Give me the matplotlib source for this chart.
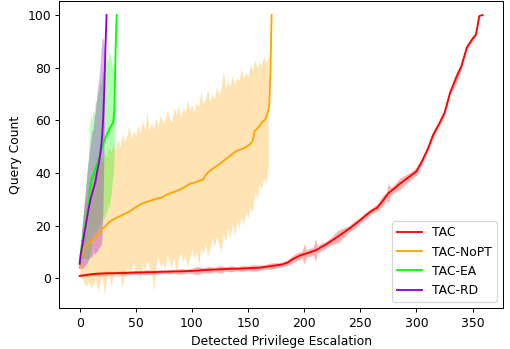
import numpy as np
import matplotlib
matplotlib.use("Agg")
import matplotlib.pyplot as plt

nan = np.nan

# TAC
tac_x = [0, 5, 10, 15, 20, 25, 30, 35, 40, 45, 50, 55, 60, 65, 70, 75, 80, 85, 90, 95,
         100, 105, 110, 115, 120, 125, 130, 135, 140, 145, 150, 155, 160, 165, 170, 175,
         180, 185, 190, 195, 198, 200, 202, 205, 208, 210, 212, 215, 220, 225, 230, 235,
         240, 245, 250, 255, 260, 265, 270, 273, 275, 277, 280, 285, 290, 295, 300, 305,
         310, 315, 320, 325, 330, 335, 340, 345, 350, 353, 356, 359]
tac_mean = [0.9, 1.2, 1.5, 1.7, 1.8, 1.9, 1.9, 2.0, 2.0, 2.1, 2.2, 2.2, 2.3, 2.3, 2.4, 2.5,
            2.5, 2.6, 2.6, 2.7, 2.8, 2.9, 3.1, 3.2, 3.3, 3.4, 3.5, 3.6, 3.6, 3.7, 3.8, 3.9,
            4.0, 4.3, 4.6, 4.9, 5.2, 5.9, 7.3, 8.4, 8.9, 9.2, 9.4, 9.8, 10.3, 10.6, 11.0,
            11.8, 13.0, 14.4, 15.8, 17.3, 18.8, 20.4, 22.1, 23.9, 25.6, 26.8, 29.4, 31.2,
            32.3, 33.0, 34.0, 35.8, 37.4, 39.0, 40.6, 44.5, 49.0, 54.6, 58.5, 62.8, 70.5,
            75.8, 80.5, 87.8, 91.0, 92.6, 99.6, 100.0]
tac_std = [0.3, 0.6, 0.5, 0.7, 0.6, 0.8, 0.6, 0.7, 0.9, 0.6, 0.8, 0.7, 1.0, 0.7, 0.8, 0.6,
           0.9, 0.7, 1.1, 0.8, 1.0, 1.6, 0.9, 1.3, 0.8, 1.4, 0.9, 1.2, 0.8, 1.1, 0.9, 1.3,
           1.0, 0.9, 1.2, 1.0, 0.9, 1.1, 1.4, 1.5, 1.2, 3.8, 1.3, 1.6, 1.3, 4.3, 1.2, 1.5,
           1.2, 1.6, 2.4, 1.8, 1.2, 1.5, 1.1, 1.3, 1.0, 1.4, 2.0, 1.3, 3.8, 1.4, 1.5, 2.2,
           1.8, 1.4, 1.6, 1.2, 1.0, 1.3, 1.0, 1.2, 0.9, 2.2, 1.0, 0.8, 0.9, 0.6, 0.4, nan]

# TAC-NoPT (band given as lower / upper edge)
nopt_x = list(range(0, 170, 2)) + [169, 170, 171]
nopt_mean = [4.0, 9.0, 11.5, 12.5, 13.2, 14.0, 14.6, 15.5, 16.6, 17.8, 18.8, 19.4, 20.3,
             21.2, 21.8, 22.3, 22.8, 23.2, 23.6, 24.0, 24.5, 24.8, 25.3, 25.8, 26.4, 27.0,
             27.5, 28.0, 28.4, 28.8, 29.0, 29.3, 29.6, 29.9, 30.1, 30.4, 30.5, 30.8, 31.3,
             31.8, 32.2, 32.5, 32.8, 33.1, 33.5, 33.8, 34.3, 34.8, 35.3, 35.8, 36.1, 36.3,
             36.6, 36.9, 37.2, 37.5, 39.0, 40.0, 40.8, 41.5, 42.0, 42.6, 43.2, 43.8, 44.5,
             45.2, 45.8, 46.5, 47.2, 47.8, 48.4, 48.8, 49.0, 49.3, 49.8, 50.3, 51.0, 52.0,
             56.0, 56.8, 57.6, 59.0, 59.8, 60.8, 63.5, 66.0, 80.0, 100.0]
nopt_hi = [6, 18, 26, 31, 35, 38, 40, 43, 42, 46, 44, 48, 46, 50, 48, 51, 49, 53, 50, 55,
           52, 54, 58, 53, 56, 54, 58, 55, 60, 56, 63, 56, 59, 57, 61, 58, 62, 59, 60, 64,
           61, 59, 65, 62, 66, 61, 65, 63, 68, 64, 66, 63, 67, 65, 71, 66, 68, 72, 67, 70,
           68, 73, 70, 72, 79, 72, 75, 73, 77, 74, 76, 75, 80, 76, 78, 77, 81, 79, 83, 80,
           82, 81, 84, 82, 85, nan, nan, nan]
nopt_lo = [2, 0, -2, -3, -1, -4, -2, 0, -5, -1, 1, -6, 0, 2, -3, 1, 3, 0, 2, -4,
           2, 4, 1, 3, 6, 2, 4, -1, 5, 3, 7, 4, 2, -5, 5, 8, 4, 6, 3, 9,
           6, 4, 8, 1, 7, 10, 6, 9, 4, 8, 11, 7, 10, 5, 12, 9, 13, 8, 11, 15,
           12, 16, 13, 10, 17, 14, 19, 15, 21, 16, 22, 19, 24, 20, 25, 23, 27, 25, 33, 30,
           36, 34, 38, 36, 42, nan, nan, nan]

# TAC-EA
ea_x = list(range(0, 34))
ea_mean = [6.0, 9.5, 13.0, 15.5, 17.5, 20.0, 22.5, 25.0, 27.0, 33.0, 37.0, 38.2, 39.0,
           40.3, 41.8, 42.8, 44.0, 45.3, 46.5, 48.0, 49.6, 51.0, 52.3, 53.4, 54.3, 55.2,
           56.2, 57.0, 57.8, 58.6, 59.6, 64.0, 87.0, 100.0]
ea_std = [1, 4, 6, 8, 10, 12, 15, 18, 20, 24, 26, 21, 25, 22, 26, 24, 27, 25, 28, 26, 29,
          27, 30, 28, 31, 27, 30, 28, 26, 22, 20, 12, nan, nan]

# TAC-RD
rd_x = list(range(0, 25))
rd_mean = [5.5, 9.0, 11.5, 14.0, 16.5, 19.0, 21.5, 24.0, 26.5, 28.5, 30.5, 32.0, 33.5,
           35.0, 36.5, 39.0, 41.5, 43.5, 46.0, 49.5, 53.5, 61.0, 72.0, 88.0, 100.0]
rd_std = [1, 5, 8, 10, 12, 14, 16, 18, 19, 21, 22, 24, 23, 26, 27, 29, 31, 32, 34, 37,
          38, 30, 14, nan, nan]

series = [
    ("TAC", tac_x, tac_mean, np.array(tac_mean) - tac_std, np.array(tac_mean) + tac_std, "red"),
    ("TAC-NoPT", nopt_x, nopt_mean, nopt_lo, nopt_hi, "orange"),
    ("TAC-EA", ea_x, ea_mean, np.array(ea_mean) - ea_std, np.array(ea_mean) + ea_std, "lime"),
    ("TAC-RD", rd_x, rd_mean, np.array(rd_mean) - rd_std, np.array(rd_mean) + rd_std, "darkviolet"),
]

dpi = 89
fig, ax = plt.subplots(figsize=(511 / dpi, 349 / dpi), dpi=dpi)
fig.subplots_adjust(left=0.1164, right=0.984, top=0.997, bottom=0.1175)

for name, x, m, lo, hi, c in series:
    ax.plot(x, m, color=c, label=name)
    ax.fill_between(np.array(x, dtype=float), np.array(lo, dtype=float),
                    np.array(hi, dtype=float), color=c, alpha=0.3, linewidth=0)

ax.set_xlabel("Detected Privilege Escalation")
ax.set_ylabel("Query Count")
ax.legend(loc="lower right")

fig.savefig("out.png", dpi=dpi)
